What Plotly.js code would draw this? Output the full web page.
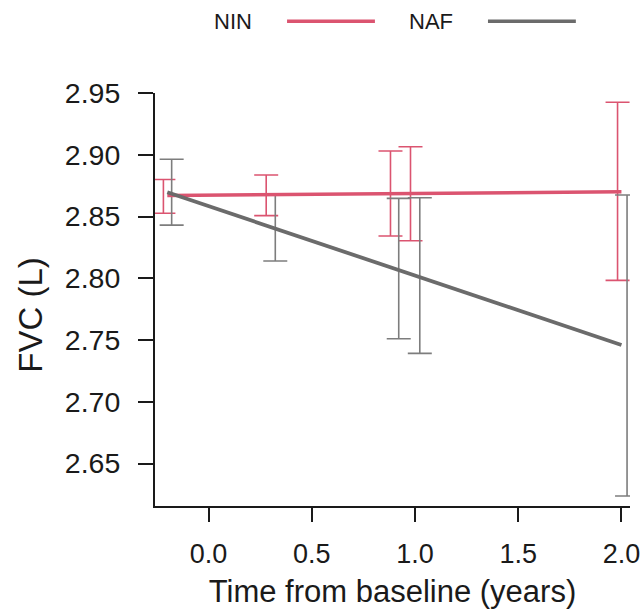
<!DOCTYPE html>
<html>
<head>
<meta charset="utf-8">
<script src="https://cdn.plot.ly/plotly-3.0.1.min.js"></script>
<style>html,body{margin:0;padding:0;background:#fff;}#chart{width:643px;height:613px;}</style>
</head>
<body>
<div id="chart"></div>
<script>
// Fitted trend lines
const lineX = [-0.2, 2.0];
const ninLineY = [2.867, 2.870];
const nafLineY = [2.8696, 2.746];

// Error bars (confidence intervals) per group
const ninX = [-0.219, 0.279, 0.881, 0.978, 1.981];
const ninLow = [2.8526, 2.8507, 2.8342, 2.8304, 2.7983];
const ninHigh = [2.8800, 2.8836, 2.9030, 2.9065, 2.9425];

const nafX = [-0.179, 0.323, 0.921, 1.023, 2.027];
const nafLow = [2.8430, 2.8140, 2.7510, 2.7392, 2.6237];
const nafHigh = [2.8963, 2.8682, 2.8647, 2.8652, 2.8674];

const xTicks = [0, 0.5, 1, 1.5, 2];
const xTickText = ['0.0', '0.5', '1.0', '1.5', '2.0'];
const yTicks = [2.65, 2.70, 2.75, 2.80, 2.85, 2.90, 2.95];
const yTickText = ['2.65', '2.70', '2.75', '2.80', '2.85', '2.90', '2.95'];

const groupNames = ['NIN', 'NAF'];
const xTitle = 'Time from baseline (years)';
const yTitle = 'FVC (L)';

const PINK = '#db5470';
const GRAY = '#6b6b6b';
const GRAY_EB = '#7d7d7d';
const INK = '#1a1a1a';
const FONT = 'Liberation Sans, Arial, sans-serif';

function mid(lo, hi) { return lo.map((v, i) => (v + hi[i]) / 2); }
function half(lo, hi) { return lo.map((v, i) => (hi[i] - v) / 2); }

const traces = [
  {
    x: ninX, y: mid(ninLow, ninHigh), type: 'scatter', mode: 'markers',
    marker: {size: 1, color: 'rgba(0,0,0,0)'},
    error_y: {type: 'data', array: half(ninLow, ninHigh), visible: true, color: PINK, thickness: 1.6, width: 12},
    showlegend: false, hoverinfo: 'skip'
  },
  {
    x: nafX, y: mid(nafLow, nafHigh), type: 'scatter', mode: 'markers',
    marker: {size: 1, color: 'rgba(0,0,0,0)'},
    error_y: {type: 'data', array: half(nafLow, nafHigh), visible: true, color: GRAY_EB, thickness: 1.6, width: 12},
    showlegend: false, hoverinfo: 'skip'
  },
  {
    x: lineX, y: ninLineY, type: 'scatter', mode: 'lines', name: groupNames[0],
    line: {color: PINK, width: 3.5}, showlegend: false
  },
  {
    x: lineX, y: nafLineY, type: 'scatter', mode: 'lines', name: groupNames[1],
    line: {color: GRAY, width: 3.8}, showlegend: false
  }
];

const layout = {
  width: 643, height: 613,
  margin: {l: 155, r: 13, t: 93, b: 107},
  paper_bgcolor: '#fff', plot_bgcolor: '#fff',
  font: {family: FONT, color: INK},
  showlegend: false,
  xaxis: {
    range: [-0.2597, 2.0413], tickvals: xTicks, ticktext: xTickText,
    showgrid: false, zeroline: false, showline: true, linecolor: INK, linewidth: 2,
    ticks: 'outside', ticklen: 14, tickwidth: 2, tickcolor: INK,
    tickfont: {size: 27, family: FONT, color: INK}, ticklabelstandoff: 9,
    title: {text: xTitle, font: {size: 31, family: FONT, color: INK}, standoff: 12},
    automargin: false
  },
  yaxis: {
    range: [2.6156, 2.95], tickvals: yTicks, ticktext: yTickText,
    showgrid: false, zeroline: false, showline: true, linecolor: INK, linewidth: 2,
    ticks: 'outside', ticklen: 15, tickwidth: 2, tickcolor: INK,
    tickfont: {size: 28.5, family: FONT, color: INK}, ticklabelstandoff: 12,
    automargin: false
  },
  annotations: [
    {text: yTitle, xref: 'paper', yref: 'paper', x: -0.262, y: 0.462, textangle: -90, showarrow: false,
     xanchor: 'center', yanchor: 'middle', font: {size: 33, family: FONT, color: INK}},
    {text: groupNames[0], xref: 'paper', yref: 'paper', x: 0.164, y: 1.172, showarrow: false,
     xanchor: 'center', yanchor: 'middle', font: {size: 22, family: FONT, color: INK}},
    {text: groupNames[1], xref: 'paper', yref: 'paper', x: 0.581, y: 1.172, showarrow: false,
     xanchor: 'center', yanchor: 'middle', font: {size: 22, family: FONT, color: INK}}
  ],
  shapes: [
    {type: 'line', xref: 'paper', yref: 'paper', x0: 0.278, x1: 0.463, y0: 1.174, y1: 1.174,
     line: {color: PINK, width: 3.5}},
    {type: 'line', xref: 'paper', yref: 'paper', x0: 0.701, x1: 0.886, y0: 1.174, y1: 1.174,
     line: {color: GRAY, width: 3.5}}
  ]
};

Plotly.newPlot('chart', traces, layout, {displayModeBar: false, staticPlot: true});
</script>
</body>
</html>
